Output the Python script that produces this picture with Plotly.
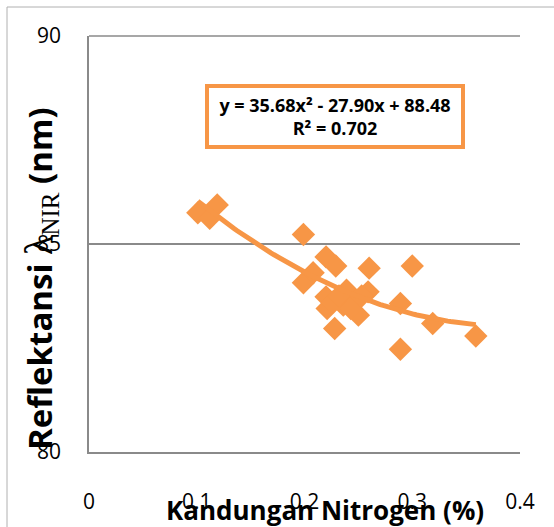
import numpy as np
import plotly.graph_objects as go

# Data
nitrogen = [0.101, 0.112, 0.119, 0.199, 0.199, 0.208, 0.220, 0.229, 0.260, 0.300,
            0.220, 0.221, 0.228, 0.236, 0.239, 0.245, 0.250, 0.259, 0.289, 0.289,
            0.319, 0.359, 0.226, 0.243, 0.232, 0.253]
reflektansi = [85.75, 85.62, 85.94, 85.23, 84.07, 84.31, 84.69, 84.47, 84.42, 84.47,
               83.73, 83.45, 82.97, 83.53, 83.89, 83.65, 83.29, 83.85, 83.57, 82.47,
               83.09, 82.79, 83.60, 83.45, 83.75, 83.75]
poly_coef = [35.68, -27.90, 88.48]
x_ticks = [0, 0.1, 0.2, 0.3, 0.4]
x_tick_text = ["0", "0.1", "0.2", "0.3", "0.4"]
y_ticks = [80, 85, 90]
y_tick_text = ["80", "85", "90"]

ORANGE = "#F79646"
GRID = "#8a8a8a"

xt = np.linspace(min(nitrogen), max(nitrogen), 100)
yt = np.polyval(poly_coef, xt)

fig = go.Figure()
fig.add_trace(go.Scatter(x=nitrogen, y=reflektansi, mode="markers",
                         marker=dict(symbol="diamond", size=18, color=ORANGE),
                         showlegend=False, hoverinfo="skip"))
fig.add_trace(go.Scatter(x=xt, y=yt, mode="lines",
                         line=dict(color=ORANGE, width=5),
                         showlegend=False, hoverinfo="skip"))

L, R, T, B = 89, 34, 36, 75
W, H = 554, 527
pw, ph = W - L - R, H - T - B

def px(xp):
    return (xp - L) / pw

def py(yp):
    return (H - B - yp) / ph

ytitle = ("<b>Reflektansi </b>"
          "<span style='font-family:Liberation Serif;font-size:40px'>λ</span>"
          "<sub><span style='font-family:Liberation Serif;font-size:25px'>NIR</span></sub>"
          "<b> (nm)</b>")

fig.update_layout(
    width=W, height=H,
    margin=dict(l=L, r=R, t=T, b=B),
    paper_bgcolor="white", plot_bgcolor="white",
    font=dict(family="Open Sans", color="#000000"),
    xaxis=dict(range=[0, 0.4], tickvals=x_ticks, ticktext=x_tick_text,
               showgrid=False, zeroline=False, showline=True, linecolor=GRID,
               linewidth=1.5, ticks="outside", ticklen=30,
               tickcolor="rgba(0,0,0,0)", tickfont=dict(size=21, family="Open Sans", color="#000")),
    yaxis=dict(range=[80, 90], tickvals=y_ticks, ticktext=y_tick_text,
               showgrid=True, gridcolor=GRID, gridwidth=1.5, zeroline=False,
               showline=True, linecolor=GRID, linewidth=1.5, ticks="outside",
               ticklen=22, tickcolor="rgba(0,0,0,0)",
               tickfont=dict(size=21, family="Open Sans", color="#000")),
    shapes=[dict(type="line", xref="paper", yref="paper", x0=0, x1=1, y0=1, y1=1,
                 line=dict(color=GRID, width=1.5)),
            dict(type="rect", xref="paper", yref="paper",
                 x0=px(7), x1=px(560), y0=py(7), y1=py(535),
                 line=dict(color="#b0b0b0", width=1), layer="below")],
    annotations=[
        dict(xref="paper", yref="paper", x=px(335), y=py(116.5),
             text="<b>y = 35.68x² - 27.90x + 88.48<br>R² = 0.702</b>",
             showarrow=False, font=dict(size=18, family="Open Sans", color="#000"),
             bordercolor=ORANGE, borderwidth=4, width=250, height=55,
             bgcolor="white", xanchor="center", yanchor="middle"),
        dict(xref="paper", yref="paper", x=px(325), y=py(510),
             text="<b>Kandungan Nitrogen (%)</b>", showarrow=False,
             font=dict(size=26, family="Open Sans", color="#000"),
             xanchor="center", yanchor="middle"),
        dict(xref="paper", yref="paper", x=px(40), y=py(279),
             text=ytitle,
             showarrow=False, textangle=-90,
             font=dict(size=33, family="Open Sans", color="#000"),
             xanchor="center", yanchor="middle"),
    ],
)

fig.write_html("out.html")
